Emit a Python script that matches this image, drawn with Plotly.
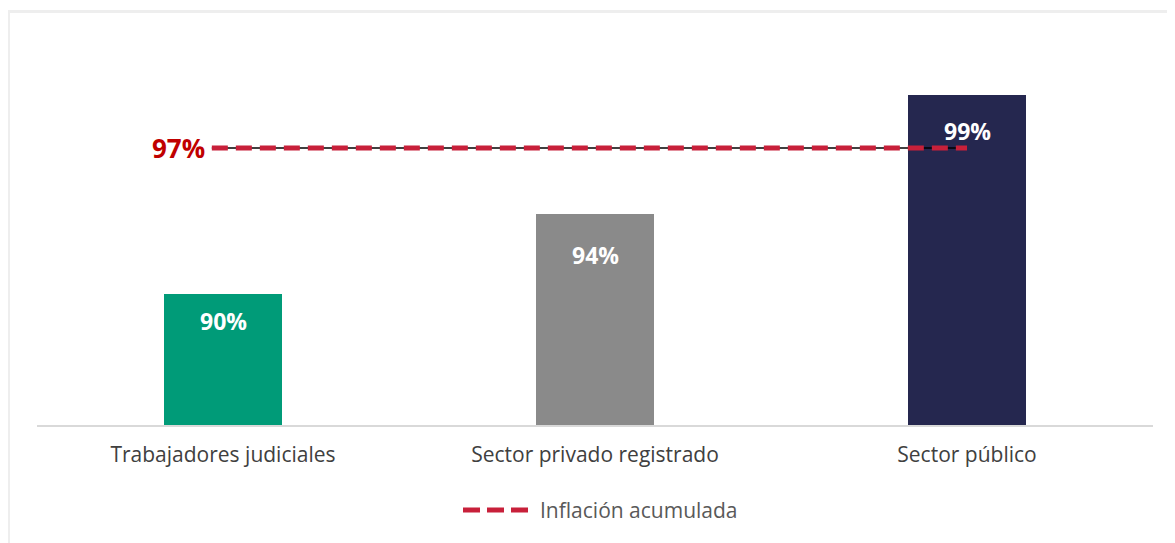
import plotly.graph_objects as go

# data
categories = ["Trabajadores judiciales", "Sector privado registrado", "Sector público"]
salary_growth = [90.4, 94.0, 99.4]
bar_labels = ["90%", "94%", "99%"]
bar_colors = ["#009B78", "#8A8A8A", "#25274F"]

inflation = 97.0
inflation_label = "97%"
legend_name = "Inflación acumulada"

# label offsets below bar tops (px), as in the source chart
label_shift = [-27, -41, -36]

FONT = "Open Sans"
RED = "#C8203A"

# the page is shown with an 8px body margin; helpers take page pixels
# plot area on the page: x 37..1153, y 40..425
def px_x(px):
    return (px - 37) / 1116

def px_y(py):
    return (425 - py) / 385

fig = go.Figure()

fig.add_trace(go.Bar(
    x=categories,
    y=salary_growth,
    marker=dict(color=bar_colors, line=dict(width=0)),
    width=0.317,
    showlegend=False,
    hoverinfo="skip",
))

# inflation reference: thin black line with red dashes on top (numeric overlay axis)
fig.add_trace(go.Scatter(
    x=[-0.03, 2.0],
    y=[inflation, inflation],
    xaxis="x2",
    mode="lines",
    line=dict(color="black", width=1.5),
    showlegend=False,
    hoverinfo="skip",
))
fig.add_trace(go.Scatter(
    x=[-0.03, 2.0],
    y=[inflation, inflation],
    xaxis="x2",
    mode="lines",
    line=dict(color=RED, width=5, dash="16px,8px"),
    name=legend_name,
    showlegend=False,
    hoverinfo="skip",
))

# value labels inside the bars
for cat, val, lab, shift in zip(categories, salary_growth, bar_labels, label_shift):
    fig.add_annotation(
        x=cat, y=val, text=f"<b>{lab}</b>", showarrow=False,
        yanchor="middle", yshift=shift,
        font=dict(family=FONT, size=23, color="white"),
    )

# 97% label at the left of the line
fig.add_annotation(
    x=-0.042, y=inflation, xref="x2", text=f"<b>{inflation_label}</b>",
    showarrow=False, xanchor="right", yanchor="middle",
    font=dict(family=FONT, size=26, color="#C00000"),
)

# manual legend
fig.add_shape(
    type="line", xref="paper", yref="paper",
    x0=px_x(463), x1=px_x(528), y0=px_y(510), y1=px_y(510),
    line=dict(color=RED, width=5, dash="17px,7px"),
)
fig.add_annotation(
    x=px_x(538), y=px_y(510), xref="paper", yref="paper",
    text=legend_name, showarrow=False, xanchor="left", yanchor="middle",
    font=dict(family=FONT, size=21, color="#595959"),
)

# outer light frame (clipped at right/bottom like the reference)
fig.add_shape(
    type="rect", xref="paper", yref="paper",
    x0=px_x(8.5), x1=px_x(1260), y0=px_y(620), y1=px_y(11.5),
    line=dict(color="#EEEEEE", width=3), layer="below",
)

fig.update_layout(
    width=1175,
    height=543,
    margin=dict(l=29, r=30, t=32, b=126),
    paper_bgcolor="white",
    plot_bgcolor="white",
    bargap=0,
    xaxis=dict(
        type="category",
        range=[-0.5, 2.5],
        showline=True,
        linecolor="#D9D9D9",
        linewidth=2,
        showgrid=False,
        ticks="",
        ticklabelstandoff=10,
        tickfont=dict(family=FONT, size=21, color="#404040"),
    ),
    xaxis2=dict(
        overlaying="x",
        range=[-0.5, 2.5],
        visible=False,
    ),
    yaxis=dict(
        range=[84.5, 101.87],
        visible=False,
    ),
    showlegend=False,
)

fig.write_html("out.html")
